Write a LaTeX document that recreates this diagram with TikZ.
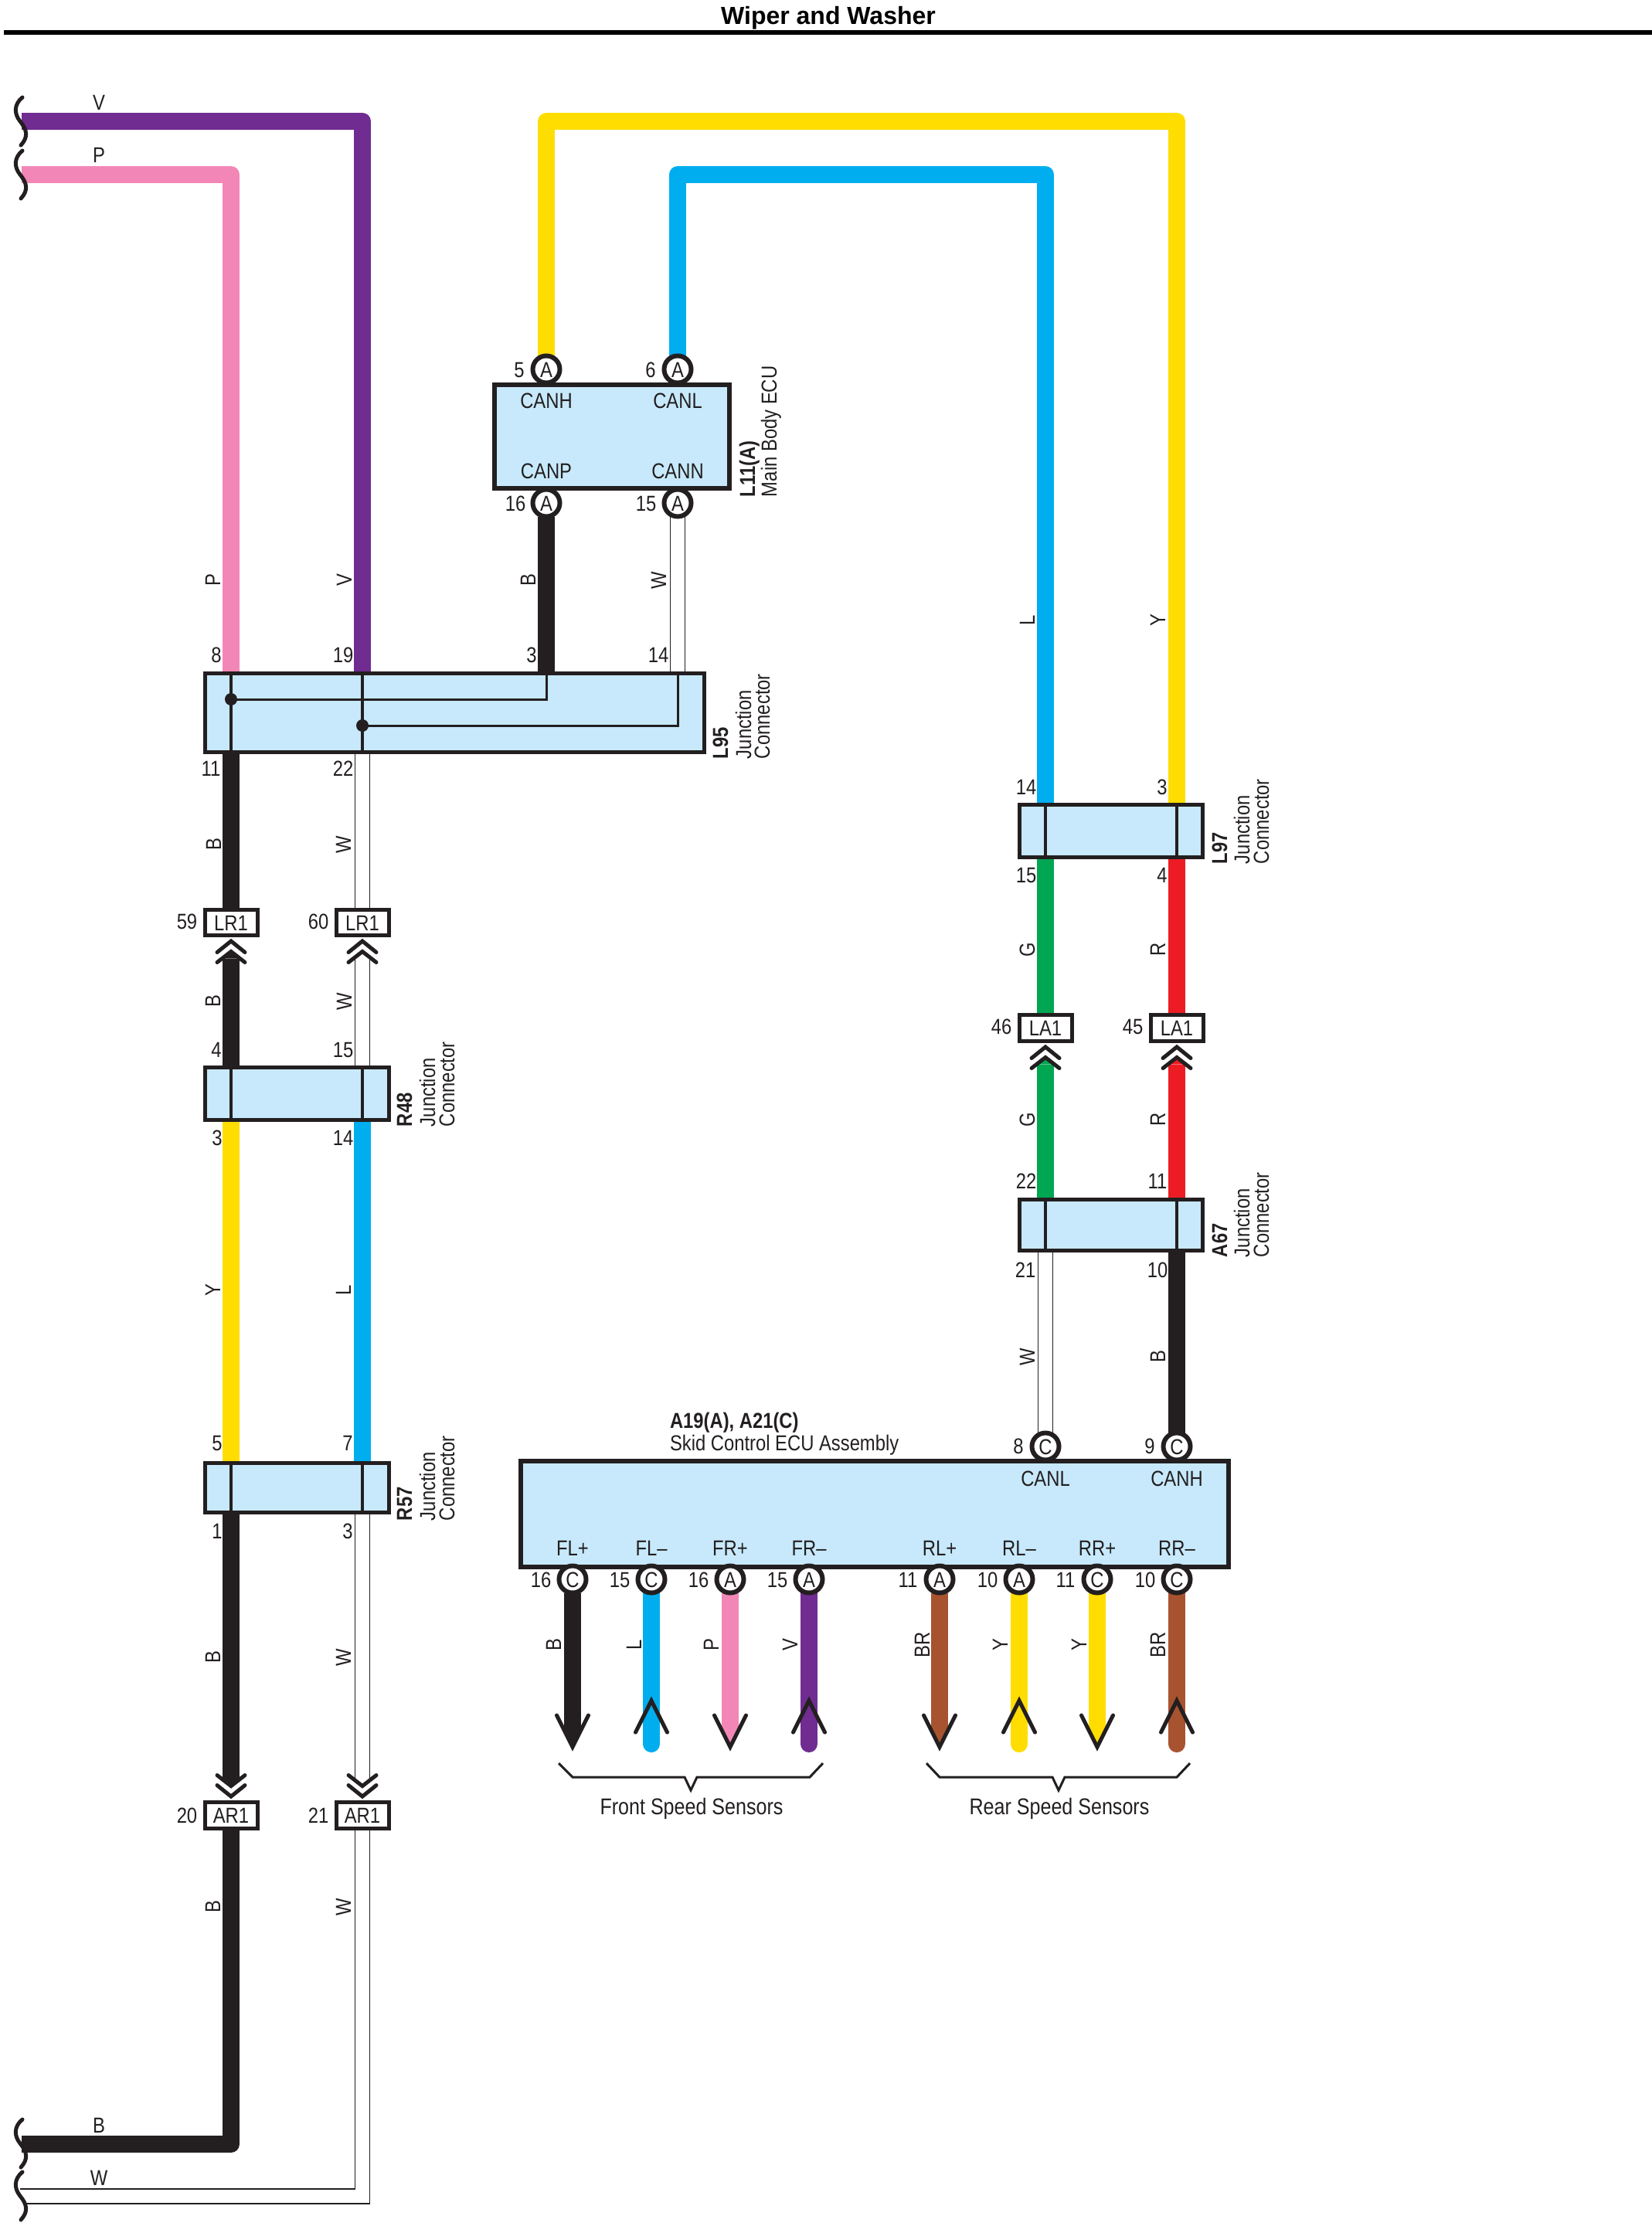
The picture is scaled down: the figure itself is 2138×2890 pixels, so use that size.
\documentclass[tikz,border=0pt]{standalone}
\usepackage{fontspec}
\setmainfont{Liberation Sans}[FakeStretch=0.85]
\newfontfamily\titlefont{Liberation Sans}
\usetikzlibrary{backgrounds}
\definecolor{wblack}{HTML}{231F20}
\definecolor{wpurple}{HTML}{702C91}
\definecolor{wpink}{HTML}{F287B7}
\definecolor{wyellow}{HTML}{FFDD00}
\definecolor{wblue}{HTML}{00AEEF}
\definecolor{wgreen}{HTML}{00A651}
\definecolor{wred}{HTML}{ED1C24}
\definecolor{wbrown}{HTML}{A8532F}
\definecolor{boxblue}{HTML}{C7E9FB}
\tikzset{
  wire/.style={draw=#1,line width=22pt,line join=round},
  whitewire/.style={draw=wblack,line width=1.5pt,double=white,double distance=17.5pt},
  thinwire/.style={draw=wblack,line width=1.5pt},
  lbl/.style={inner sep=0pt,outer sep=0pt,text height=20pt,text depth=0pt,text=wblack,font=\fontsize{28}{30}\selectfont},
  jbox/.style={draw=wblack,fill=boxblue,line width=5pt,inner sep=0pt,outer sep=0pt},
  ecubox/.style={draw=wblack,fill=boxblue,line width=6pt,inner sep=0pt,outer sep=0pt},
  lrbox/.style={draw=wblack,fill=white,line width=5pt,inner sep=0pt,outer sep=0pt,minimum width=68pt,text=wblack,text height=20pt,text depth=0pt,font=\fontsize{28}{30}\selectfont},
  pinc/.style={circle,draw=wblack,fill=white,line width=6pt,inner sep=0pt,outer sep=0pt,minimum size=35pt,text=wblack,text height=20pt,text depth=0pt,font=\fontsize{28}{30}\selectfont},
  bus/.style={draw=wblack,line width=3.5pt},
  chev/.style={draw=wblack,line width=5pt,line cap=round,line join=miter},
  squig/.style={draw=wblack,line width=5pt,line cap=round},
  brack/.style={draw=wblack,line width=3pt,line join=miter},
  sidelbl/.style={rotate=90,anchor=west,font=\fontsize{28}{30}\selectfont},
  sidebold/.style={rotate=90,anchor=west,font=\fontsize{28}{30}\selectfont\bfseries}
}
\newcount\tcnt
\newcommand\T[4][]{\global\advance\tcnt by 1 \node[lbl,#1] (t\the\tcnt) at (#2,#3) {#4};}
\newcommand\V[3]{\T[rotate=90]{#1}{#2}{#3}}
\newcommand\upchev[1]{%
  \draw[chev] ([shift={(-18,22)}]#1) -- ([shift={(0,7.5)}]#1) -- ([shift={(18,22)}]#1);
  \draw[chev] ([shift={(-18,35)}]#1) -- ([shift={(0,21)}]#1) -- ([shift={(18,35)}]#1);}
\newcommand\downchev[1]{%
  \draw[chev] ([shift={(-18,-22)}]#1) -- ([shift={(0,-7.5)}]#1) -- ([shift={(18,-22)}]#1);
  \draw[chev] ([shift={(-18,-35)}]#1) -- ([shift={(0,-21)}]#1) -- ([shift={(18,-35)}]#1);}
\newcommand\uptaper[2]{\fill[#2] ([shift={(-11,30)}]#1) -- ([shift={(0,21)}]#1) -- ([shift={(11,30)}]#1) -- cycle;}
\newcommand\downtaper[2]{\fill[#2] ([shift={(-11,-30)}]#1) -- ([shift={(0,-21)}]#1) -- ([shift={(11,-30)}]#1) -- cycle;}
\begin{document}
\begin{tikzpicture}[x=1pt,y=-1pt]
\useasboundingbox (0,0) rectangle (2138,2890);
% title
\node[inner sep=0pt,text=black,font=\titlefont\fontsize{32}{34}\selectfont\bfseries,text height=23pt,text depth=0pt] (title) at (1072,20) {Wiper and Washer};
\coordinate (ruleL) at (5,42);
\coordinate (ruleR) at (2138,42);
\draw[black,line width=6pt] (ruleL) -- (ruleR);
% reference x positions
\coordinate (LX) at (299,0);
\coordinate (UX) at (469,0);
\coordinate (GX) at (1353,0);
\coordinate (RX) at (1523,0);
% boxes
\node[ecubox,minimum width=304pt,minimum height=134pt] (L11) at (792,565) {};
\node[jbox,minimum width=646pt,minimum height=102pt] (L95) at (588.5,922.5) {};
\node[jbox,minimum width=238pt,minimum height=68pt] (R48) at (384.5,1415.5) {};
\node[jbox,minimum width=238pt,minimum height=64pt] (R57) at (384.5,1925.5) {};
\node[jbox,minimum width=237pt,minimum height=68pt] (L97) at (1438,1075.5) {};
\node[jbox,minimum width=237pt,minimum height=66pt] (A67) at (1438,1585.5) {};
\node[ecubox,minimum width=916pt,minimum height=137pt] (ABS) at (1132,1959.5) {};
% inline connectors
\node[lrbox,minimum height=33pt] (LRa) at (299,1194) {LR1};
\node[lrbox,minimum height=33pt] (LRb) at (469,1194) {LR1};
\node[lrbox,minimum height=34pt] (ARa) at (299,2349.5) {AR1};
\node[lrbox,minimum height=34pt] (ARb) at (469,2349.5) {AR1};
\node[lrbox,minimum height=34pt] (LAa) at (1353,1330.5) {LA1};
\node[lrbox,minimum height=34pt] (LAb) at (1523,1330.5) {LA1};
% L11 pins
\node[pinc] (pCANH) at (707,478) {A};
\node[pinc] (pCANL) at (877,478) {A};
\node[pinc] (pCANP) at (707,651) {A};
\node[pinc] (pCANN) at (877,651) {A};
% ABS top pins
\node[pinc] (pAL) at (1353,1872) {C};
\node[pinc] (pAH) at (1523,1872) {C};
% free wire ends
\coordinate (brkV) at (28,157);
\coordinate (brkP) at (28,226);
\coordinate (brkB) at (28,2775);
\coordinate (brkW1) at (26,2833);
\coordinate (brkW2) at (34,2852);
\coordinate (wI) at (459.5,0);
\coordinate (wO) at (478.5,0);
\coordinate (yelA) at (707,157);
\coordinate (yelB) at (1523,157);
\coordinate (bluA) at (877,226);
\coordinate (bluB) at (1353,226);
% wires
\begin{scope}[on background layer]
\fill[white] (0,0) rectangle (2138,2890);
\draw[wire=wpurple] (brkV) -| (L95.north -| UX);
\draw[wire=wpink] (brkP) -| (L95.north -| LX);
\draw[wire=wyellow] (pCANH.north) -- (yelA) -- (yelB) -- (L97.north -| RX);
\draw[wire=wblue] (pCANL.north) -- (bluA) -- (bluB) -- (L97.north -| GX);
\draw[wire=wblack] (pCANP.south) -- (L95.north -| pCANP);
\draw[whitewire] (pCANN.south) -- (L95.north -| pCANN);
\draw[wire=wblack] (L95.south -| LX) -- (LRa.north);
\draw[whitewire] (L95.south -| UX) -- (LRb.north);
\draw[wire=wblack] ([yshift=-30pt]LRa.south) -- (R48.north -| LX);
\uptaper{LRa.south}{wblack}
\draw[whitewire] ([yshift=-29pt]LRb.south) -- (R48.north -| UX);
\draw[wire=wyellow] (R48.south -| LX) -- (R57.north -| LX);
\draw[wire=wblue] (R48.south -| UX) -- (R57.north -| UX);
\draw[wire=wblack] (R57.south -| LX) -- ([yshift=30pt]ARa.north);
\downtaper{ARa.north}{wblack}
\draw[whitewire] (R57.south -| UX) -- ([yshift=29pt]ARb.north);
\draw[wire=wblack] (ARa.south) |- (brkB);
\draw[thinwire] (ARb.south -| wI) |- (brkW1);
\draw[thinwire] (ARb.south -| wO) |- (brkW2);
\draw[wire=wgreen] (L97.south -| GX) -- (LAa.north);
\draw[wire=wred] (L97.south -| RX) -- (LAb.north);
\draw[wire=wgreen] ([yshift=-30pt]LAa.south) -- (A67.north -| GX);
\uptaper{LAa.south}{wgreen}
\draw[wire=wred] ([yshift=-30pt]LAb.south) -- (A67.north -| RX);
\uptaper{LAb.south}{wred}
\draw[whitewire] (A67.south -| GX) -- (pAL.north);
\draw[wire=wblack] (A67.south -| RX) -- (pAH.north);
\end{scope}
% chevrons
\upchev{LRa.south}
\upchev{LRb.south}
\upchev{LAa.south}
\upchev{LAb.south}
\downchev{ARa.north}
\downchev{ARb.north}
% junction buses
\foreach \b/\xx in {R48/LX,R48/UX,R57/LX,R57/UX,L97/GX,L97/RX,A67/GX,A67/RX,L95/LX,L95/UX}{
  \draw[bus] (\b.north -| \xx) -- (\b.south -| \xx);
}
\coordinate (dotA) at (299,905);
\coordinate (dotB) at (469,939);
\draw[bus,line width=3pt] (dotA) -| (L95.north -| pCANP);
\draw[bus,line width=3pt] (dotB) -| (L95.north -| pCANN);
\fill[wblack] (dotA) circle (8pt);
\fill[wblack] (dotB) circle (8pt);
% break marks
\foreach \y in {126,195,2743,2811}{
  \draw[squig,shift={(0,\y)}] (29,0) .. controls (18,9) and (18,21) .. (26,31) .. controls (35,42) and (37,51) .. (27,62);
}
% sensor pins and wires
\foreach \nm/\x/\col/\n/\c/\sig/\wl/\lx/\dir in {
 fa/741/wblack/16/C/FL+/B/716/d,
 fb/843/wblue/15/C/FL–/L/820/u,
 fc/945/wpink/16/A/FR+/P/920/d,
 fd/1047/wpurple/15/A/FR–/V/1022/u,
 ra/1216/wbrown/11/A/RL+/BR/1193/d,
 rb/1319/wyellow/10/A/RL–/Y/1294/u,
 rc/1420/wyellow/11/C/RR+/Y/1396/d,
 rd/1523/wbrown/10/C/RR–/BR/1498/u}{
  \node[pinc] (p\nm) at (\x,2044) {\c};
  \T{\x-41}{2044}{\n}
  \T{\x}{2003}{\sig}
  \V{\lx}{2129}{\wl}
  \coordinate (tip\nm) at (\x,2261);
  \if\dir d
    \begin{scope}[on background layer]
      \draw[wire=\col] (p\nm.south) -- ([yshift=22pt]tip\nm);
      \fill[\col] ([shift={(-11,-22)}]tip\nm) -- (tip\nm) -- ([shift={(11,-22)}]tip\nm) -- cycle;
    \end{scope}
    \draw[chev] ([shift={(-20.5,-41)}]tip\nm) -- (tip\nm) -- ([shift={(20.5,-41)}]tip\nm);
  \else
    \begin{scope}[on background layer]
      \draw[wire=\col,line cap=round] (p\nm.south) -- ([yshift=4pt]tip\nm);
    \end{scope}
    \draw[chev] ([shift={(-20.5,-19)}]tip\nm) -- ([shift={(0,-60)}]tip\nm) -- ([shift={(20.5,-19)}]tip\nm);
  \fi
}
% brackets
\coordinate (fb1) at (723,2282); \coordinate (fb2) at (741,2300); \coordinate (fb3) at (886,2300);
\coordinate (fb4) at (894,2317); \coordinate (fb5) at (902,2300); \coordinate (fb6) at (1048,2300); \coordinate (fb7) at (1065,2282);
\draw[brack] (fb1) -- (fb2) -- (fb3) -- (fb4) -- (fb5) -- (fb6) -- (fb7);
\coordinate (rb1) at (1199,2282); \coordinate (rb2) at (1216,2300); \coordinate (rb3) at (1362,2300);
\coordinate (rb4) at (1370,2317); \coordinate (rb5) at (1378,2300); \coordinate (rb6) at (1523,2300); \coordinate (rb7) at (1540,2282);
\draw[brack] (rb1) -- (rb2) -- (rb3) -- (rb4) -- (rb5) -- (rb6) -- (rb7);
\T[font=\fontsize{29.5}{30}\selectfont]{895}{2338}{Front Speed Sensors}
\T[font=\fontsize{29.5}{30}\selectfont]{1371}{2338}{Rear Speed Sensors}
% L11 texts
\T{707}{518}{CANH}
\T{877}{518}{CANL}
\T{707}{609}{CANP}
\T{877}{609}{CANN}
\T{672}{478}{5}
\T{842}{478}{6}
\T{667}{651}{16}
\T{836}{651}{15}
\T[sidebold]{967}{643}{L11(A)}
\T[sidelbl]{995}{643}{Main Body ECU}
% top wire letters
\T{128}{133}{V}
\T{128}{201}{P}
\V{275}{751}{P}
\V{445}{751}{V}
\V{683}{751}{B}
\V{852}{751}{W}
\V{1329}{803}{L}
\V{1498}{803}{Y}
% L95
\T{280}{847}{8}
\T{444}{847}{19}
\T{688}{847}{3}
\T{852}{847}{14}
\T{273}{994}{11}
\T{444}{994}{22}
\T[sidebold]{932}{982}{L95}
\T[sidelbl]{962}{982}{Junction}
\T[sidelbl]{986}{982}{Connector}
\V{276}{1093}{B}
\V{444}{1093}{W}
% LR1
\T{242}{1192}{59}
\T{412}{1192}{60}
\V{275}{1296}{B}
\V{445}{1296}{W}
% R48
\T{280}{1358}{4}
\T{444}{1358}{15}
\T{281}{1472}{3}
\T{444}{1472}{14}
\T[sidebold]{523}{1458}{R48}
\T[sidelbl]{553}{1458}{Junction}
\T[sidelbl]{578}{1458}{Connector}
\V{275}{1670}{Y}
\V{444}{1670}{L}
% R57
\T{281}{1867}{5}
\T{450}{1867}{7}
\T{281}{1981}{1}
\T{450}{1981}{3}
\T[sidebold]{523}{1968}{R57}
\T[sidelbl]{553}{1968}{Junction}
\T[sidelbl]{578}{1968}{Connector}
\V{275}{2145}{B}
\V{444}{2145}{W}
% AR1
\T{242}{2349}{20}
\T{412}{2349}{21}
\V{275}{2468}{B}
\V{444}{2468}{W}
\T{128}{2750}{B}
\T{128}{2818}{W}
% L97
\T{1328}{1018}{14}
\T{1504}{1018}{3}
\T{1328}{1132}{15}
\T{1504}{1132}{4}
\T[sidebold]{1578}{1118}{L97}
\T[sidelbl]{1607}{1118}{Junction}
\T[sidelbl]{1632}{1118}{Connector}
\V{1329}{1229}{G}
\V{1498}{1229}{R}
% LA1
\T{1296}{1328}{46}
\T{1466}{1328}{45}
\V{1329}{1449}{G}
\V{1498}{1449}{R}
% A67
\T{1328}{1528}{22}
\T{1498}{1528}{11}
\T{1327}{1643}{21}
\T{1498}{1643}{10}
\T[sidebold]{1578}{1627}{A67}
\T[sidelbl]{1607}{1627}{Junction}
\T[sidelbl]{1632}{1627}{Connector}
\V{1329}{1756}{W}
\V{1498}{1756}{B}
% ABS
\T[anchor=west,font=\fontsize{28}{30}\selectfont\bfseries]{867}{1838}{A19(A), A21(C)}
\T[anchor=west,font=\fontsize{28}{30}\selectfont]{867}{1867}{Skid Control ECU Assembly}
\T{1318}{1871}{8}
\T{1488}{1871}{9}
\T{1353}{1913}{CANL}
\T{1523}{1913}{CANH}
\end{tikzpicture}
\end{document}
